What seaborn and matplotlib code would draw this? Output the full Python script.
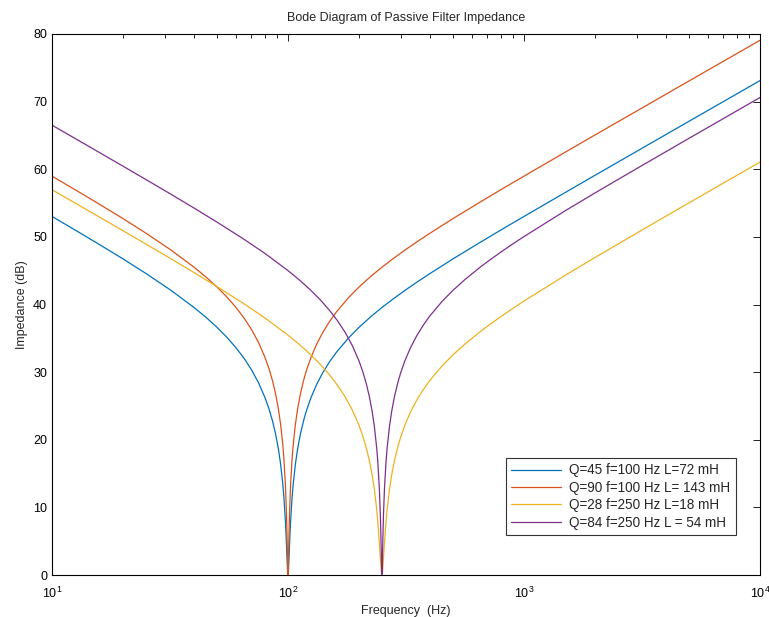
import matplotlib
matplotlib.use("Agg")
import matplotlib.pyplot as plt
import seaborn as sns
import pandas as pd

# ---- data ----
freq_a = [10, 13, 16, 20, 25, 32, 40, 45, 50, 55, 60, 65, 70, 75, 80, 83, 86, 88.5, 91,
          93, 95, 96, 97.5, 98.5, 99, 99.5, 100, 100.5, 101, 101.5, 102.5, 104, 105,
          107.5, 110, 113, 117, 120, 125, 132, 140, 150, 160, 180, 200, 225, 250, 280,
          320, 360, 400, 500, 650, 800, 1000, 1500, 2000, 3000, 5000, 7000, 10000]
z_q45 = [53.02, 50.68, 48.80, 46.74, 44.59, 42.07, 39.55, 38.08, 36.63, 35.17, 33.67,
         32.09, 30.36, 28.43, 26.18, 24.60, 22.76, 20.93, 18.69, 16.45, 13.54, 11.66,
         7.97, 4.59, 2.64, 0.85, 0.05, 0.84, 2.60, 4.51, 7.78, 11.34, 13.12, 16.42,
         18.79, 20.93, 23.11, 24.41, 26.18, 28.12, 29.84, 31.53, 32.89, 35.01, 36.63,
         38.24, 39.55, 40.87, 42.32, 43.54, 44.59, 46.74, 49.16, 51.04, 53.02, 56.59,
         59.11, 62.64, 67.09, 70.01, 73.11]
z_q90 = [58.98, 56.64, 54.76, 52.70, 50.55, 48.03, 45.51, 44.04, 42.59, 41.13, 39.63,
         38.04, 36.32, 34.39, 32.13, 30.55, 28.70, 26.86, 24.61, 22.34, 19.35, 17.39,
         13.37, 9.23, 6.29, 2.57, 0.0, 2.55, 6.23, 9.11, 13.16, 17.05, 18.92, 22.31,
         24.70, 26.86, 29.05, 30.36, 32.13, 34.07, 35.79, 37.49, 38.85, 40.97, 42.59,
         44.20, 45.51, 46.83, 48.28, 49.50, 50.55, 52.70, 55.12, 57.00, 58.98, 62.55,
         65.07, 68.60, 73.05, 75.97, 79.07]

freq_b = [10, 13, 16, 20, 25, 32, 40, 50, 65, 80, 100, 112.5, 125, 137.5, 150, 162.5,
          175, 187.5, 200, 207.5, 215, 221.25, 227.5, 232.5, 237.5, 240, 243.75, 246.25,
          247.5, 248.75, 250, 251.25, 252.5, 253.75, 256.25, 260, 262.5, 268.75, 275,
          282.5, 292.5, 300, 312.5, 330, 350, 375, 400, 450, 500, 562.5, 650, 700, 800,
          900, 1000, 1500, 2000, 3000, 5000, 7000, 10000]
z_q28 = [56.97, 54.68, 52.87, 50.91, 48.94, 46.74, 44.72, 42.65, 40.12, 37.99, 35.47,
         34.00, 32.55, 31.10, 29.59, 28.01, 26.29, 24.36, 22.12, 20.54, 18.71, 16.90,
         14.71, 12.53, 9.75, 8.03, 4.87, 2.43, 1.28, 0.41, 0.08, 0.41, 1.26, 2.38, 4.73,
         7.74, 9.36, 12.50, 14.79, 16.90, 19.06, 20.35, 22.12, 24.05, 25.76, 27.45,
         28.81, 30.93, 32.55, 34.16, 35.94, 36.79, 38.24, 39.46, 40.51, 44.35, 46.95,
         50.55, 55.03, 57.96, 61.06]
z_q84 = [66.52, 64.23, 62.41, 60.45, 58.48, 56.28, 54.26, 52.19, 49.66, 47.53, 45.01,
         43.54, 42.09, 40.63, 39.13, 37.54, 35.82, 33.89, 31.64, 30.05, 28.20, 26.36,
         24.11, 21.84, 18.85, 16.90, 12.89, 8.80, 5.94, 2.41, 0.08, 2.40, 5.88, 8.69,
         12.69, 16.56, 18.43, 21.81, 24.20, 26.36, 28.55, 29.86, 31.64, 33.57, 35.29,
         36.99, 38.35, 40.47, 42.09, 43.70, 45.48, 46.33, 47.78, 49.00, 50.05, 53.89,
         56.50, 60.09, 64.57, 67.50, 70.61]

labels = ["Q=45 f=100 Hz L=72 mH", "Q=90 f=100 Hz L= 143 mH",
          "Q=28 f=250 Hz L=18 mH", "Q=84 f=250 Hz L = 54 mH"]
colors = ["#0072BD", "#D95319", "#EDB120", "#7E2F8E"]

series = [(freq_a, z_q45), (freq_a, z_q90), (freq_b, z_q28), (freq_b, z_q84)]

sns.set_style("white")
plt.rcParams["font.family"] = ["Liberation Sans", "DejaVu Sans"]
plt.rcParams["mathtext.default"] = "regular"

fig = plt.figure(figsize=(7.69, 6.17), dpi=100)
ax = fig.add_axes([52 / 769, 1 - 575 / 617, (760 - 52) / 769, (575 - 34) / 617])

for (fx, zy), lab, col in zip(series, labels, colors):
    df = pd.DataFrame({"f": fx, "z": zy})
    sns.lineplot(data=df, x="f", y="z", ax=ax, color=col, label=lab,
                 linewidth=0.9, sort=True, estimator=None)

ax.set_xscale("log")
ax.set_xlim(10, 10000)
ax.set_ylim(0, 80)
ax.set_yticks(range(0, 81, 10))
ax.set_title("Bode Diagram of Passive Filter Impedance", fontsize=9, pad=9)
ax.set_xlabel("Frequency  (Hz)", fontsize=9, labelpad=3)
ax.set_ylabel("Impedance (dB)", fontsize=9, labelpad=4)

for s in ax.spines.values():
    s.set_color("black")
    s.set_linewidth(0.8)
ax.tick_params(which="both", direction="in", top=True, right=True,
               labelsize=9, colors="black", width=0.6)
ax.tick_params(which="major", length=5)
ax.tick_params(which="minor", length=3)
ax.tick_params(axis="x", which="major", pad=8)

leg = ax.legend(loc="lower right", bbox_to_anchor=(0.966, 0.074), fontsize=9.75,
                frameon=True, fancybox=False, framealpha=1, edgecolor="#333333",
                handlelength=3.7, borderpad=0.4, labelspacing=0.25, handletextpad=0.6,
                borderaxespad=0)
leg.get_frame().set_linewidth(0.8)

fig.savefig("out.png", dpi=100)
